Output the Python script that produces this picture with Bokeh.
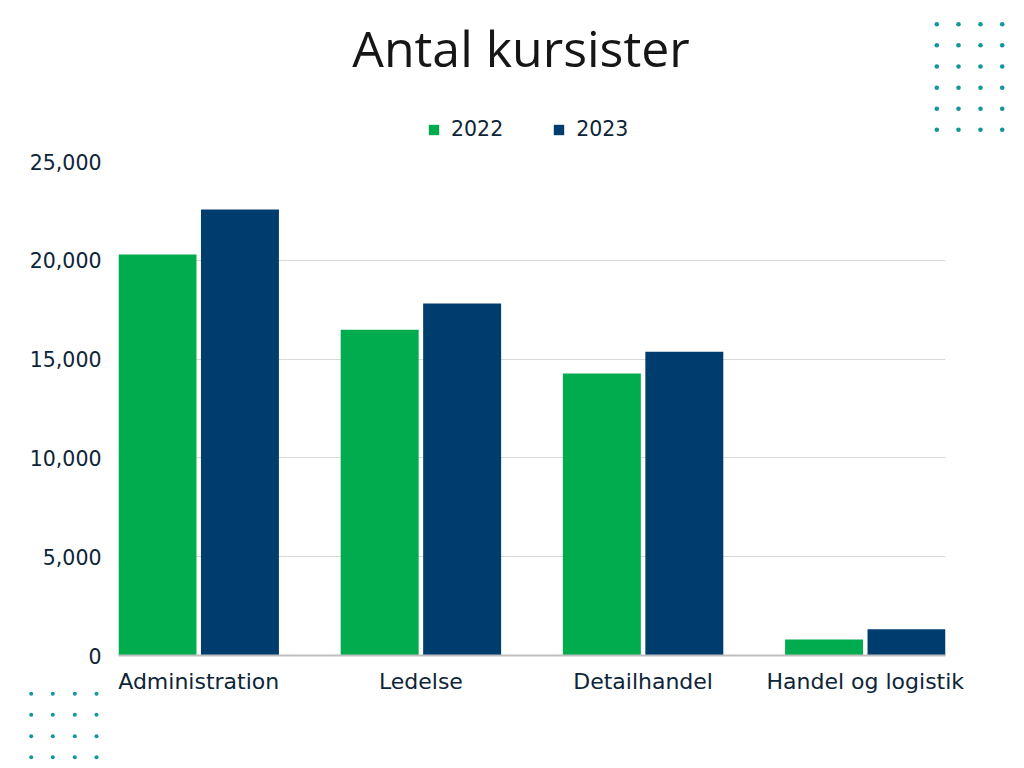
from bokeh.plotting import figure
from bokeh.layouts import column
from bokeh.models import (ColumnDataSource, FactorRange, Range1d, Legend, LegendItem,
                          NumeralTickFormatter, FixedTicker)
from bokeh.transform import dodge
from bokeh.core.properties import value
from bokeh.embed import file_html
from bokeh.resources import INLINE

title = "Antal kursister"
categories = ["Administration", "Ledelse", "Detailhandel", "Handel og logistik"]
years = ["2022", "2023"]
values_2022 = [20290, 16480, 14270, 810]
values_2023 = [22570, 17810, 15370, 1330]
y_ticks = [0, 5000, 10000, 15000, 20000, 25000]

GREEN = "#00ac4e"
BLUE = "#003d6f"
TEXT = "#0d2537"
TEAL = "#13979c"
FONT = "DejaVu Sans"

W = 1016
HEAD_H, MAIN_H, FOOT_H, OVERLAP = 145, 566, 69, 20   # page y: 0-145, 145-711, 691-760
FL, FR, FT, FB = 118, 71, 16, 56                     # main frame: x 118-945, y 161-655


def blank(h, **kw):
    f = figure(width=W, height=h, x_range=Range1d(0, W), y_range=Range1d(h, 0),
               x_axis_type=None, y_axis_type=None, min_border=0,
               output_backend="svg", toolbar_location=None, **kw)
    f.frame_align = False
    f.grid.visible = False
    f.outline_line_color = None
    return f


# ---------- header: title, legend, decorative dots ----------
head = blank(HEAD_H)
head.background_fill_color = "white"
head.border_fill_color = "white"
head.text(x=[520.5], y=[47], text=[title], text_align="center", text_baseline="alphabetic",
          text_font=value("Open Sans"), text_font_size="50px", text_color="#161616")
tr_x = [936.3, 958.0, 980.0, 1001.7]
tr_y = [23.7, 44.7, 66.0, 87.3, 108.3, 129.3]
head.scatter(x=[a for a in tr_x for _ in tr_y], y=[b for _ in tr_x for b in tr_y],
             size=4.6, marker="circle", fill_color=TEAL, line_color=None)

# legend swatches (renderers kept off-frame; only their legend entries are shown)
g1 = head.vbar(x=[-500], top=[-500], width=1, fill_color=GREEN, line_color=None)
g2 = head.vbar(x=[-500], top=[-500], width=1, fill_color=BLUE, line_color=None)
legend = Legend(items=[LegendItem(label=years[0], renderers=[g1]),
                       LegendItem(label=years[1], renderers=[g2])],
                orientation="horizontal", location=(427, 4),
                glyph_width=13, glyph_height=13, label_standoff=11, spacing=49,
                padding=0, margin=0, border_line_color=None, background_fill_alpha=0,
                label_text_font=FONT, label_text_font_size="20.5px", label_text_color=TEXT)
head.add_layout(legend, "center")

# ---------- main chart ----------
source = ColumnDataSource(dict(cat=categories, y2022=values_2022, y2023=values_2023))

p = figure(width=W, height=MAIN_H,
           x_range=FactorRange(factors=categories, range_padding=0, factor_padding=0.385),
           y_range=Range1d(0, 25000),
           output_backend="svg", toolbar_location=None,
           min_border_left=FL, min_border_right=FR, min_border_top=FT, min_border_bottom=FB)
p.frame_align = False
p.outline_line_color = None
p.background_fill_color = "white"
p.border_fill_color = "white"

p.vbar(x=dodge("cat", -0.257, range=p.x_range), top="y2022", width=0.486,
       source=source, fill_color=GREEN, line_color=None)
p.vbar(x=dodge("cat", 0.257, range=p.x_range), top="y2023", width=0.486,
       source=source, fill_color=BLUE, line_color=None)

p.xgrid.visible = False
p.ygrid.ticker = FixedTicker(ticks=y_ticks)
p.ygrid.grid_line_color = "#d9d9d9"
p.ygrid.grid_line_width = 1

p.yaxis.ticker = FixedTicker(ticks=y_ticks)
p.yaxis.formatter = NumeralTickFormatter(format="0,0")
p.yaxis.axis_line_color = None
p.yaxis.major_tick_line_color = None
p.yaxis.minor_tick_line_color = None
p.yaxis.major_tick_out = 0
p.yaxis.minor_tick_out = 0
p.yaxis.major_label_standoff = 17
p.yaxis.major_label_text_font = FONT
p.yaxis.major_label_text_font_size = "20.5px"
p.yaxis.major_label_text_color = TEXT

p.xaxis.axis_line_color = "#bfbfbf"
p.xaxis.axis_line_width = 2
p.xaxis.major_tick_line_color = None
p.xaxis.minor_tick_line_color = None
p.xaxis.major_tick_out = 0
p.xaxis.minor_tick_out = 0
p.xaxis.major_label_standoff = 13
p.xaxis.major_label_text_font = FONT
p.xaxis.major_label_text_font_size = "22px"
p.xaxis.major_label_text_color = TEXT

# ---------- footer: decorative dots (transparent, overlaps bottom border) ----------
foot = blank(FOOT_H, margin=(-OVERLAP, 0, 0, 0))
foot.background_fill_alpha = 0
foot.border_fill_alpha = 0
bl_x = [30.7, 52.3, 74.3, 96.0]
top_foot = HEAD_H + MAIN_H - OVERLAP
bl_y = [y - top_foot for y in [693.3, 714.3, 735.7, 756.7]]
foot.scatter(x=[a for a in bl_x for _ in bl_y], y=[b for _ in bl_x for b in bl_y],
             size=4.0, marker="circle", fill_color=TEAL, line_color=None)

layout = column(head, p, foot, spacing=0)
open("out.html", "w").write(file_html(layout, INLINE))
